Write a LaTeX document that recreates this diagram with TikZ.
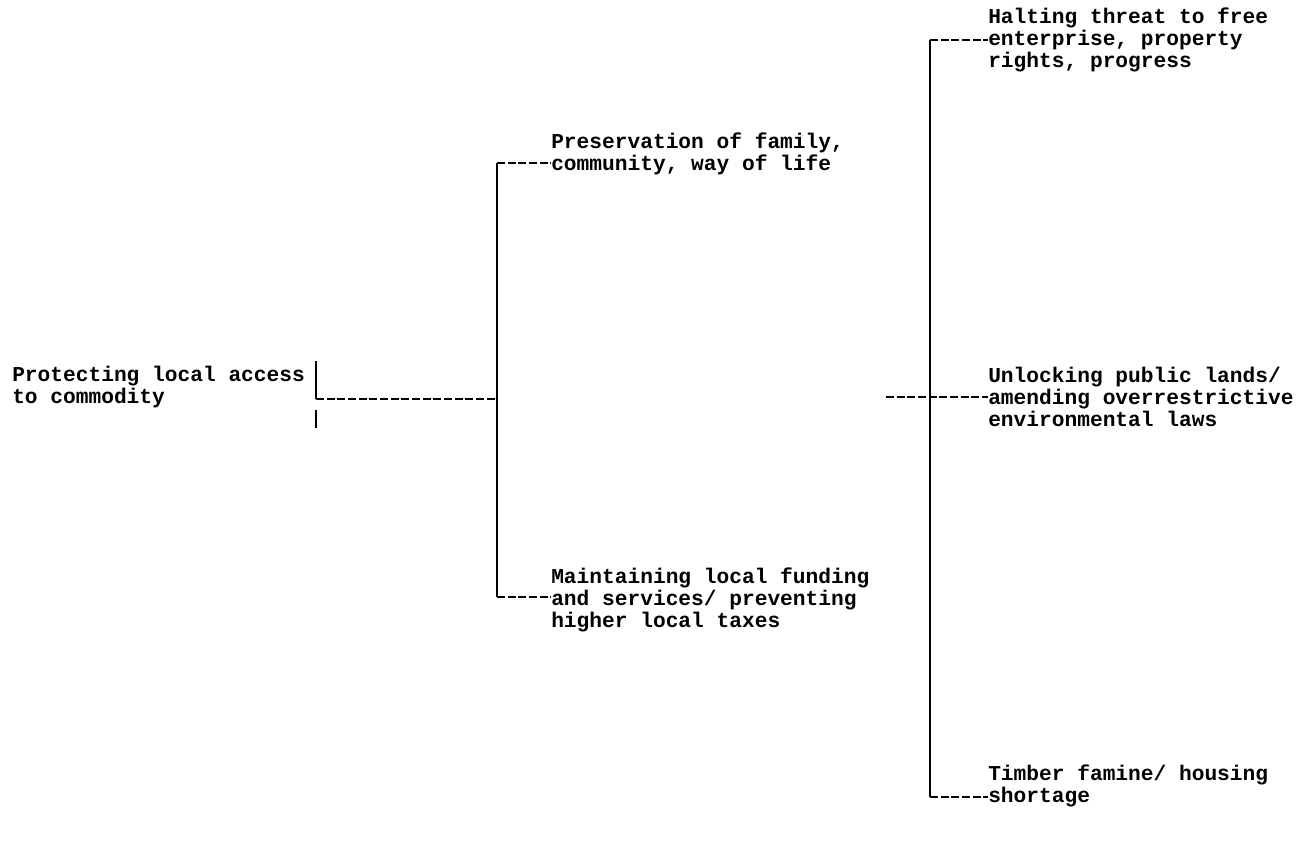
\documentclass[tikz,border=0pt]{standalone}
\usepackage{fontspec}
\setmainfont{Liberation Mono}

\begin{document}
\begin{tikzpicture}[x=0.75pt, y=-0.75pt,
  txt/.style={anchor=west, align=left, inner sep=0pt,
    font=\bfseries\fontsize{15.9}{16.5}\selectfont},
  stem/.style={line width=1.1pt},
  lead/.style={line width=1.1pt, dash pattern=on 6pt off 2pt}]
  \useasboundingbox (0,0) rectangle (1304,850);

  \node[txt] (root) at (12,387) {Protecting local access\\to commodity};
  \node[txt] (pres) at (551,154) {Preservation of family,\\community, way of life};
  \node[txt] (fund) at (551,600) {Maintaining local funding\\and services/ preventing\\higher local taxes};
  \node[txt] (halt) at (988,40) {Halting threat to free\\enterprise, property\\rights, progress};
  \node[txt] (land) at (988,397) {Unlocking public lands/\\amending overrestrictive\\environmental laws};
  \node[txt] (timb) at (988,786) {Timber famine/ housing\\shortage};

  \coordinate (r1) at (316,361);
  \coordinate (r2) at (316,399);
  \coordinate (r3) at (316,410);
  \coordinate (r4) at (316,428);
  \coordinate (a1) at (497,163);
  \coordinate (a2) at (497,597);
  \coordinate (b0) at (886,397);
  \coordinate (b1) at (930,40);
  \coordinate (b2) at (930,797);

  \draw[stem] (r1) -- (r2);
  \draw[stem] (r3) -- (r4);
  \draw[lead] (r2) -- (r2 -| a1);
  \draw[stem] (a1) -- (a2);
  \draw[lead] (a1) -- (a1 -| pres.west);
  \draw[lead] (a2) -- (a2 -| fund.west);
  \draw[stem] (b1) -- (b2);
  \draw[lead] (b1) -- (b1 -| halt.west);
  \draw[lead] (b0) -- (land.west);
  \draw[lead] (b2) -- (b2 -| timb.west);
\end{tikzpicture}
\end{document}
